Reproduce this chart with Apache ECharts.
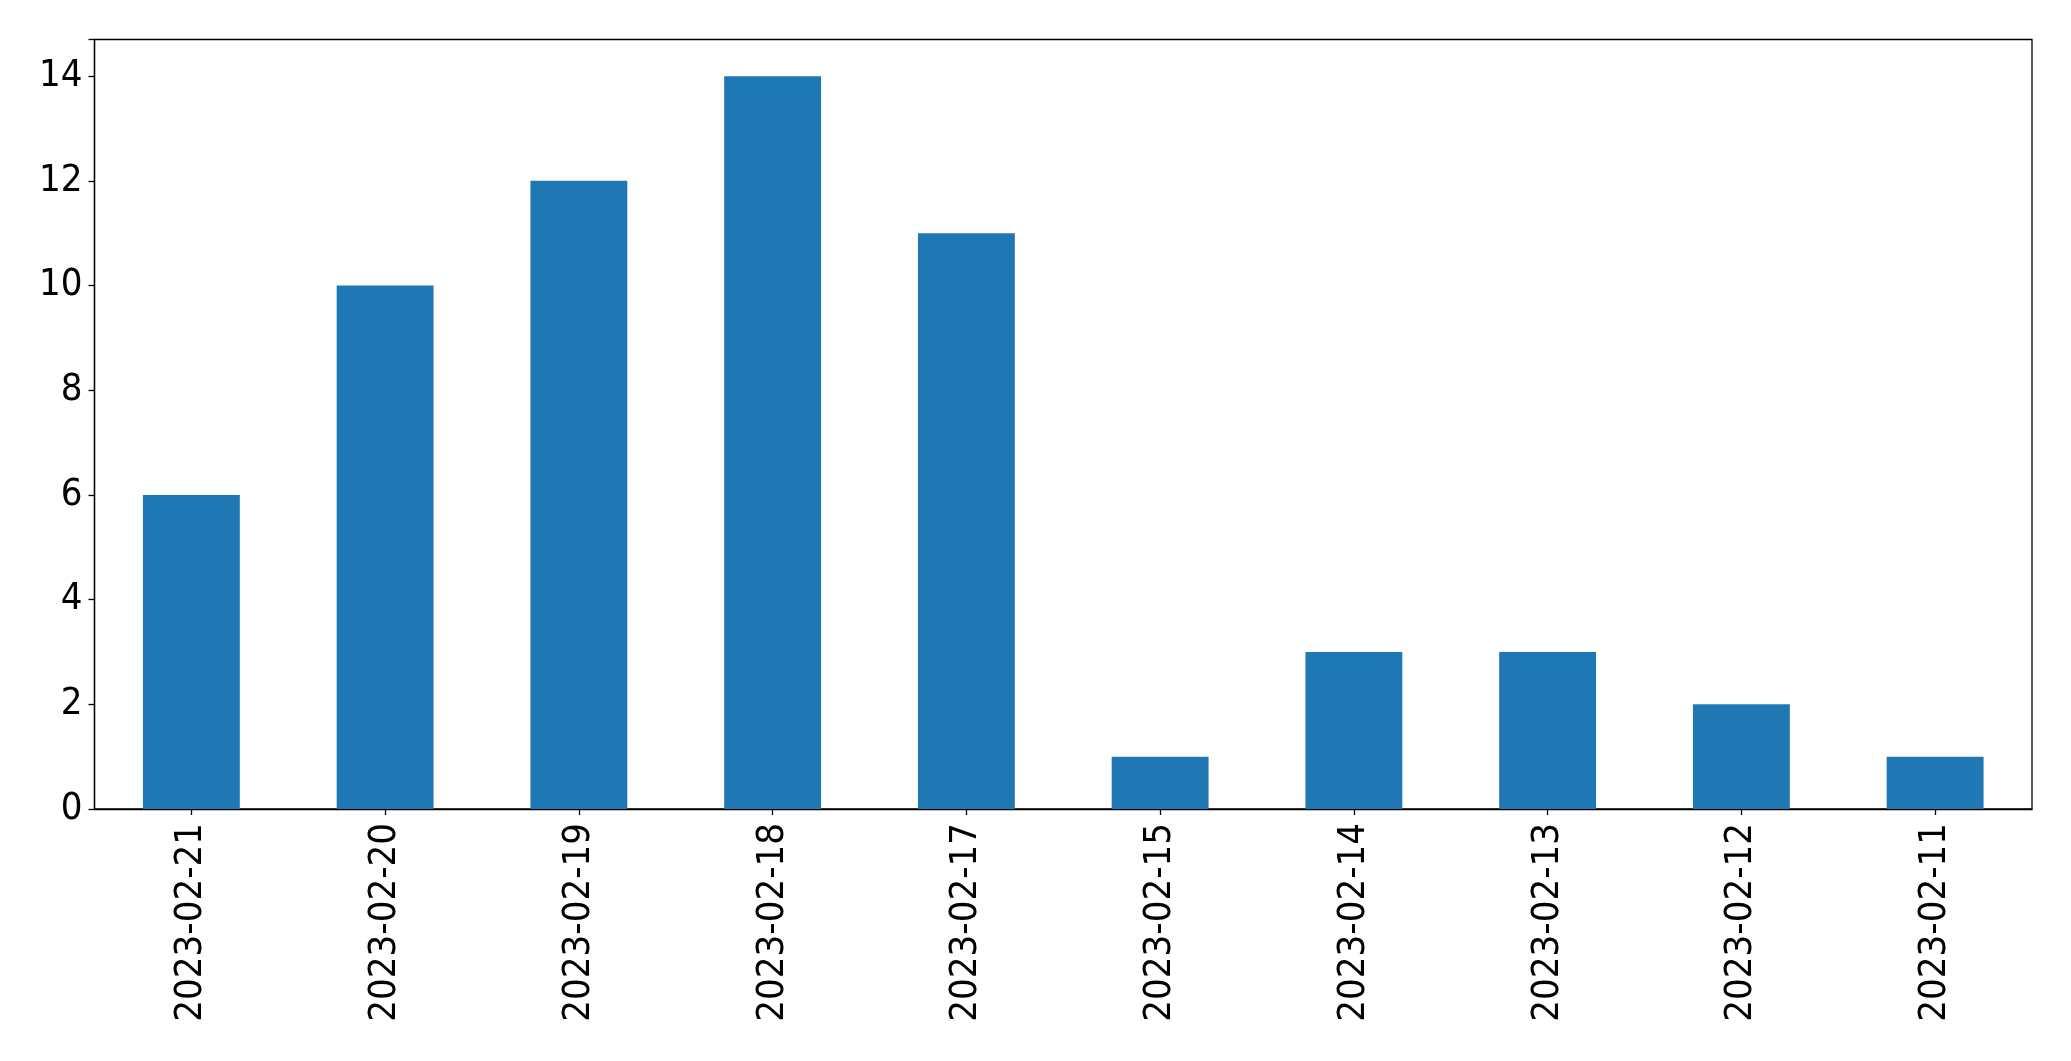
<!DOCTYPE html>
<html><head><meta charset="utf-8">
<script src="https://cdn.jsdelivr.net/npm/echarts@6/dist/echarts.min.js"></script>
<style>html,body{margin:0;padding:0;background:#fff}#c{width:2071px;height:1061px}</style>
</head><body><div id="c"></div>
<script>
const categories = ["2023-02-21","2023-02-20","2023-02-19","2023-02-18","2023-02-17","2023-02-15","2023-02-14","2023-02-13","2023-02-12","2023-02-11"];
const values = [6,10,12,14,11,1,3,3,2,1];
const yTicks = [0,2,4,6,8,10,12,14];
const FONT = '"DejaVu Sans Condensed", "DejaVu Sans", sans-serif';
const chart = echarts.init(document.getElementById('c'), null, {renderer:'canvas'});
chart.setOption({
  animation:false,
  grid:{left:94.5,top:39.5,right:39,bottom:252,show:true,borderColor:'#000',borderWidth:1.3,containLabel:false},
  xAxis:{type:'category',data:categories,boundaryGap:true,
    axisLine:{show:true,lineStyle:{color:'#000',width:1.3}},
    axisTick:{show:true,alignWithLabel:true,length:6,lineStyle:{color:'#000',width:1.3}},
    axisLabel:{rotate:90,margin:14,color:'#000',fontSize:38,fontFamily:FONT},
    splitLine:{show:false}},
  yAxis:{type:'value',min:0,max:14.7,interval:2,
    axisLine:{show:true,lineStyle:{color:'#000',width:1.3}},
    axisTick:{show:true,length:6,lineStyle:{color:'#000',width:1.3}},
    axisLabel:{margin:12,color:'#000',fontSize:38,fontFamily:FONT,
      formatter:function(v){return yTicks.indexOf(v)>=0?String(v):'';}},
    splitLine:{show:false}},
  series:[{type:'bar',data:values,barWidth:'50%',itemStyle:{color:'#1f77b4'}}]
});
</script></body></html>
